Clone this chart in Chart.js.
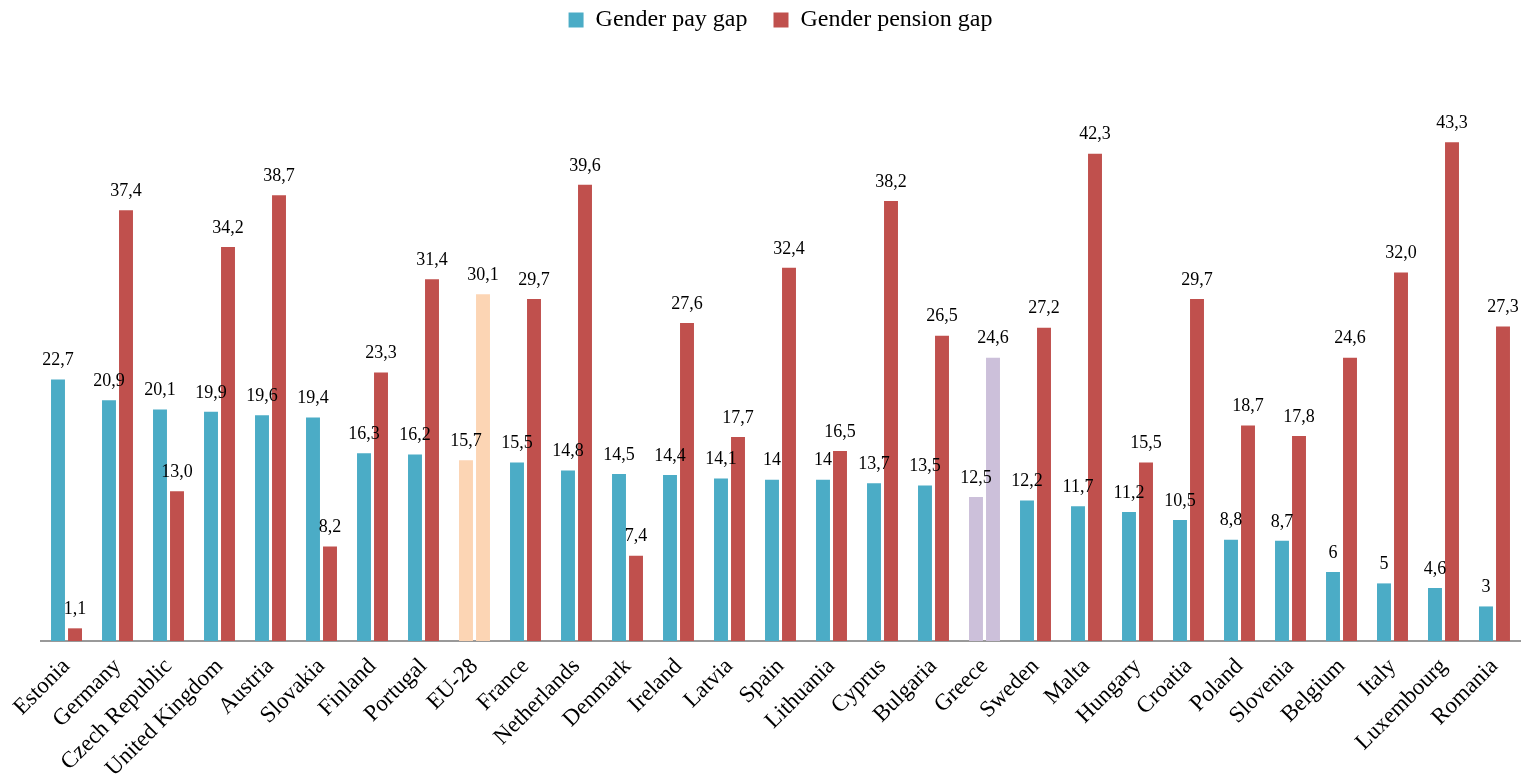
<!DOCTYPE html>
<html>
<head>
<meta charset="utf-8">
<script src="https://cdn.jsdelivr.net/npm/chart.js@4.4.0/dist/chart.umd.min.js"></script>
<style>
  body { margin: 0; background: #fff; }
  #wrap { width: 1527px; height: 783px; }
</style>
</head>
<body>
<div id="wrap"><canvas id="myChart" width="1527" height="783"></canvas></div>
<script>
var countries = ['Estonia', 'Germany', 'Czech Republic', 'United Kingdom', 'Austria', 'Slovakia', 'Finland', 'Portugal', 'EU-28', 'France', 'Netherlands', 'Denmark', 'Ireland', 'Latvia', 'Spain', 'Lithuania', 'Cyprus', 'Bulgaria', 'Greece', 'Sweden', 'Malta', 'Hungary', 'Croatia', 'Poland', 'Slovenia', 'Belgium', 'Italy', 'Luxembourg', 'Romania'];
var payGap = [22.7, 20.9, 20.1, 19.9, 19.6, 19.4, 16.3, 16.2, 15.7, 15.5, 14.8, 14.5, 14.4, 14.1, 14, 14, 13.7, 13.5, 12.5, 12.2, 11.7, 11.2, 10.5, 8.8, 8.7, 6, 5, 4.6, 3];
var pensionGap = [1.1, 37.4, 13.0, 34.2, 38.7, 8.2, 23.3, 31.4, 30.1, 29.7, 39.6, 7.4, 27.6, 17.7, 32.4, 16.5, 38.2, 26.5, 24.6, 27.2, 42.3, 15.5, 29.7, 18.7, 17.8, 24.6, 32.0, 43.3, 27.3];

var teal = '#4BACC6';
var red = '#C0504D';
var serif = '"Liberation Serif", "Times New Roman", serif';

function colorsFor(base) {
    return countries.map(function(c) {
        if (c === 'EU-28') return '#FCD5B4';
        if (c === 'Greece') return '#CCC0DA';
        return base;
    });
}

// draws the numbers above each bar
var valueLabels = {
    id: 'valueLabels',
    afterDatasetsDraw: function(chart) {
        var ctx = chart.ctx;
        ctx.save();
        ctx.font = '18px ' + serif;
        ctx.fillStyle = '#000';
        ctx.textAlign = 'center';
        ctx.textBaseline = 'bottom';
        chart.data.datasets.forEach(function(ds, i) {
            var meta = chart.getDatasetMeta(i);
            meta.data.forEach(function(bar, j) {
                var v = ds.data[j];
                var txt = i === 0 ? String(v) : v.toFixed(1);
                txt = txt.replace('.', ',');
                ctx.fillText(txt, bar.x, bar.y - 10);
            });
        });
        ctx.restore();
    }
};

var ctx = document.getElementById('myChart').getContext('2d');
var myChart = new Chart(ctx, {
    type: 'bar',
    data: {
        labels: countries,
        datasets: [{
            label: 'Gender pay gap',
            data: payGap,
            backgroundColor: colorsFor(teal),
            borderWidth: 0
        }, {
            label: 'Gender pension gap',
            data: pensionGap,
            backgroundColor: colorsFor(red),
            borderWidth: 0
        }]
    },
    options: {
        responsive: false,
        animation: false,
        categoryPercentage: 0.667,
        barPercentage: 0.82,
        layout: { padding: { top: 0, right: 7, left: 41, bottom: 0 } },
        plugins: {
            legend: {
                position: 'top',
                labels: {
                    color: '#000',
                    boxWidth: 15,
                    boxHeight: 15,
                    padding: 8,
                    generateLabels: function(chart) {
                        return [
                            { text: 'Gender pay gap\u00a0\u00a0\u00a0', fillStyle: teal, strokeStyle: teal, lineWidth: 0, datasetIndex: 0 },
                            { text: 'Gender pension gap', fillStyle: red, strokeStyle: red, lineWidth: 0, datasetIndex: 1 }
                        ];
                    },
                    font: { family: serif, size: 24 }
                }
            },
            tooltip: { enabled: false }
        },
        scales: {
            x: {
                grid: { display: false, drawTicks: false },
                border: { color: '#999', width: 2 },
                afterFit: function(scale) { scale.height = 142; },
                ticks: {
                    color: '#000',
                    minRotation: 45,
                    maxRotation: 45,
                    padding: 12,
                    font: { family: serif, size: 23 }
                }
            },
            y: {
                display: false,
                min: 0,
                max: 52
            }
        }
    },
    plugins: [valueLabels]
});
</script>
</body>
</html>
